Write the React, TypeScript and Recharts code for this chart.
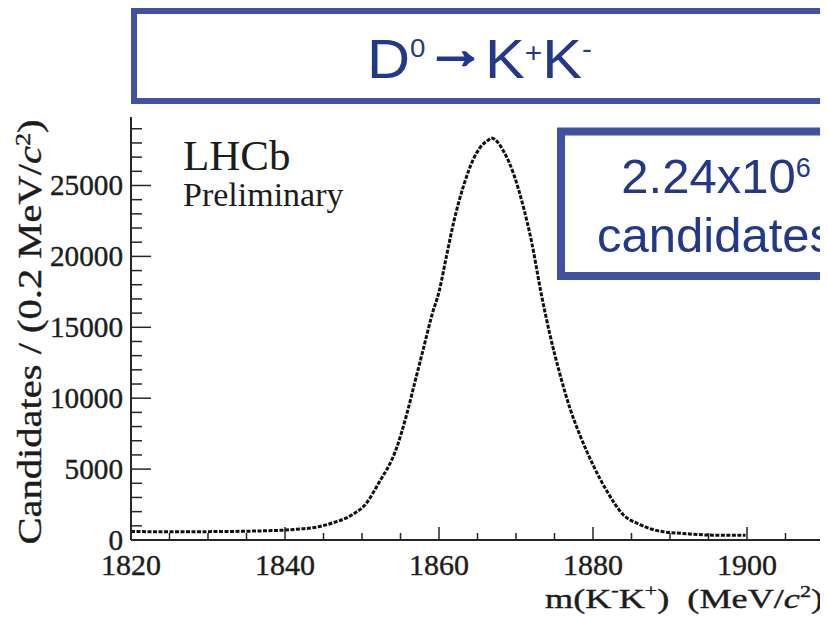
import React from 'react';
import { LineChart, Line, XAxis, YAxis } from 'recharts';

// D0 -> K+K- invariant mass spectrum
const massValues = [
  1820, 1822, 1824, 1826, 1828, 1830, 1832, 1834, 1836, 1838, 1840, 1842,
  1843.6, 1846.2, 1848.8, 1850.6, 1852.1, 1854.5, 1855.8, 1856.9, 1858.0,
  1859.1, 1860.0, 1861.0, 1861.9, 1863.2, 1864.5, 1865.3, 1866.4, 1866.8,
  1868.4, 1869.7, 1871.0, 1872.0, 1873.3, 1874.4, 1875.7, 1877.0, 1878.3,
  1880.0, 1881.8, 1883.9, 1886.1, 1888.7, 1892.2, 1895.6, 1899.8,
];
const candidateCounts = [
  600, 590, 580, 580, 580, 590, 600, 610, 630, 660, 700, 780,
  860, 1210, 1800, 2620, 3950, 6500, 8850, 11200, 13550,
  15900, 17500, 20100, 22400, 25000, 26900, 27650, 28200, 28350,
  27400, 25800, 23400, 21100, 17300, 14500, 11700, 9300, 7400,
  5300, 3450, 1800, 1090, 620, 440, 340, 330,
];

const xTickValues = [1820, 1825, 1830, 1835, 1840, 1845, 1850, 1855, 1860, 1865, 1870, 1875, 1880, 1885, 1890, 1895, 1900, 1905];
const xLabelValues = [1820, 1840, 1860, 1880, 1900];
const yTickValues = [0, 1000, 2000, 3000, 4000, 5000, 6000, 7000, 8000, 9000, 10000, 11000, 12000, 13000, 14000, 15000, 16000, 17000, 18000, 19000, 20000, 21000, 22000, 23000, 24000, 25000, 26000, 27000, 28000, 29000];
const yLabelValues = [0, 5000, 10000, 15000, 20000, 25000];

const xDomain = [1820, 1910];
const yDomain = [0, 29830];

const data = massValues.map((m, i) => ({ mass: m, count: candidateCounts[i] }));

const SERIF = "'Liberation Serif', 'Times New Roman', serif";
const SANS = "'Liberation Sans', Arial, sans-serif";
const AXIS = '#262626';
const TXT = '#1c1c1c';
const BOX = '#3f51a0';
const BLUE_TXT = '#22388a';

const labelStyle = { fontFamily: SERIF, fontSize: '30px' };

const BottomTick = (p: any) => {
  const v = p.payload.value;
  const major = xLabelValues.includes(v);
  return (
    <g>
      {v !== xDomain[0] && (
        <line x1={p.x} x2={p.x} y1={p.y} y2={p.y - (major ? 13 : 7)} stroke={AXIS} strokeWidth={1.5} />
      )}
      {major && (
        <text x={p.x} y={p.y + 35} textAnchor="middle" style={labelStyle} fill={TXT} stroke={TXT} strokeWidth={0.4}>
          {v}
        </text>
      )}
    </g>
  );
};

const TopTick = (p: any) => {
  const v = p.payload.value;
  if (v === xDomain[0]) return <g />;
  const major = xLabelValues.includes(v);
  return (
    <line x1={p.x} x2={p.x} y1={p.y} y2={p.y + (major ? 14 : 9)} stroke={AXIS} strokeWidth={1.5} />
  );
};

const LeftTick = (p: any) => {
  const v = p.payload.value;
  const major = yLabelValues.includes(v);
  const label = String(v);
  return (
    <g>
      {v !== 0 && (
        <line x1={p.x} x2={p.x + (major ? 20 : 11)} y1={p.y} y2={p.y} stroke={AXIS} strokeWidth={1.5} />
      )}
      {major && (
        <text
          x={p.x - 8}
          y={p.y + 10}
          textAnchor="end"
          style={labelStyle}
          fill={TXT}
          stroke={TXT}
          strokeWidth={0.4}
          textLength={label.length * 14.6}
          lengthAdjust="spacingAndGlyphs"
        >
          {label}
        </text>
      )}
    </g>
  );
};

const RightTick = (p: any) => {
  const v = p.payload.value;
  if (v === 0) return <g />;
  const major = yLabelValues.includes(v);
  return (
    <line x1={p.x} x2={p.x - (major ? 19 : 9)} y1={p.y} y2={p.y} stroke={AXIS} strokeWidth={1.5} />
  );
};

export default function App() {
  return (
    <div
      style={{
        position: 'relative',
        width: 828,
        height: 617,
        margin: '-8px 0 0 -8px',
        overflow: 'hidden',
        background: '#ffffff',
      }}
    >
      <LineChart width={828} height={617} data={data} margin={{ top: 117, right: 4, bottom: 0, left: 0 }}>
        <XAxis
          xAxisId="bottom"
          dataKey="mass"
          type="number"
          domain={xDomain}
          ticks={xTickValues}
          interval={0}
          height={77}
          tickSize={0}
          tickMargin={0}
          tickLine={false}
          axisLine={{ stroke: AXIS, strokeWidth: 2 }}
          tick={BottomTick}
        />
        <XAxis
          xAxisId="top"
          orientation="top"
          dataKey="mass"
          type="number"
          domain={xDomain}
          ticks={xTickValues}
          interval={0}
          height={0}
          tickSize={0}
          tickMargin={0}
          tickLine={false}
          axisLine={{ stroke: AXIS, strokeWidth: 2 }}
          tick={TopTick}
        />
        <YAxis
          yAxisId="left"
          type="number"
          domain={yDomain}
          ticks={yTickValues}
          interval={0}
          width={131}
          tickSize={0}
          tickMargin={0}
          tickLine={false}
          axisLine={{ stroke: AXIS, strokeWidth: 2 }}
          tick={LeftTick}
        />
        <YAxis
          yAxisId="right"
          orientation="right"
          type="number"
          domain={yDomain}
          ticks={yTickValues}
          interval={0}
          width={0}
          tickSize={0}
          tickMargin={0}
          tickLine={false}
          axisLine={{ stroke: AXIS, strokeWidth: 2 }}
          tick={RightTick}
        />
        <Line
          xAxisId="top"
          yAxisId="right"
          dataKey="count"
          stroke="none"
          dot={false}
          activeDot={false}
          isAnimationActive={false}
        />
        <Line
          xAxisId="bottom"
          yAxisId="left"
          type="monotone"
          dataKey="count"
          stroke="#111"
          strokeWidth={3}
          strokeDasharray="4 1.5"
          dot={false}
          activeDot={false}
          isAnimationActive={false}
        />
      </LineChart>
      <svg
        width={828}
        height={617}
        style={{ position: 'absolute', left: 0, top: 0, pointerEvents: 'none' }}
      >
        {/* y-axis title */}
        <text
          transform="rotate(-90)"
          x={-332}
          y={41}
          textAnchor="middle"
          fontFamily={SERIF}
          fontSize={34}
          fill={TXT}
          stroke={TXT}
          strokeWidth={0.4}
          textLength={425}
          lengthAdjust="spacingAndGlyphs"
        >
          <tspan>Candidates / (0.2 MeV/</tspan>
          <tspan fontStyle="italic">c</tspan>
          <tspan dy={-11} fontSize={22}>2</tspan>
          <tspan dy={11}>)</tspan>
        </text>
        {/* x-axis title */}
        <text
          x={545}
          y={608}
          fontFamily={SERIF}
          fontSize={28}
          fill={TXT}
          stroke={TXT}
          strokeWidth={0.4}
          textLength={278}
          lengthAdjust="spacingAndGlyphs"
        >
          <tspan>m(K</tspan>
          <tspan dy={-12} fontSize={17}>-</tspan>
          <tspan dy={12}>K</tspan>
          <tspan dy={-12} fontSize={17}>+</tspan>
          <tspan dy={12}>{')\u00A0\u00A0(MeV/'}</tspan>
          <tspan fontStyle="italic">c</tspan>
          <tspan dy={-11} fontSize={17}>2</tspan>
          <tspan dy={11}>)</tspan>
        </text>
        {/* LHCb label */}
        <text x={183} y={170} fontFamily={SERIF} fontSize={43} fill={TXT}>LHCb</text>
        <text x={183} y={206} fontFamily={SERIF} fontSize={34} fill={TXT}>Preliminary</text>

        {/* title box */}
        <rect x={134} y={11} width={689} height={90} fill="#ffffff" stroke={BOX} strokeWidth={6} />
        <text
          x={367}
          y={78}
          fontFamily={SANS}
          fontSize={56}
          fill={BLUE_TXT}
          textLength={225}
          lengthAdjust="spacingAndGlyphs"
        >
          <tspan>D</tspan>
          <tspan dy={-21} fontSize={26}>0</tspan>
          <tspan dy={11} fontWeight="bold" stroke={BLUE_TXT} strokeWidth={2}>→</tspan>
          <tspan dy={10}>K</tspan>
          <tspan dy={-16} fontSize={28}>+</tspan>
          <tspan dy={16}>K</tspan>
          <tspan dy={-20} fontSize={28}>-</tspan>
        </text>

        {/* candidates box */}
        <rect x={561} y={131.5} width={400} height={144.5} fill="#ffffff" stroke={BOX} strokeWidth={8} />
        <text x={716} y={193} textAnchor="middle" fontFamily={SANS} fontSize={49} fill={BLUE_TXT}>
          <tspan>2.24x10</tspan>
          <tspan dy={-16} fontSize={27}>6</tspan>
        </text>
        <text x={597} y={252} fontFamily={SANS} fontSize={49} fill={BLUE_TXT}>candidates</text>
      </svg>
    </div>
  );
}
